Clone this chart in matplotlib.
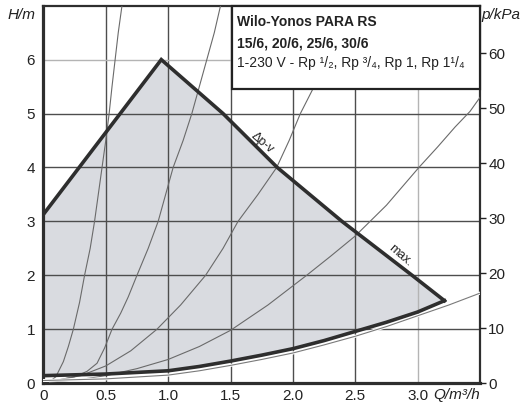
import matplotlib
matplotlib.use('Agg')
import matplotlib.pyplot as plt
from matplotlib.patches import Rectangle

plt.rcParams['font.family'] = ['Liberation Sans', 'DejaVu Sans']

# --- данные ---
q_ticks = [0, 0.5, 1.0, 1.5, 2.0, 2.5, 3.0]
q_labels = ['0', '0.5', '1.0', '1.5', '2.0', '2.5', '3.0']
h_ticks = [0, 1, 2, 3, 4, 5, 6]
p_ticks = [0, 10, 20, 30, 40, 50, 60]

# верхняя граница поля (Δp-v / max.)
top_q = [0.0, 0.945, 1.44, 1.875, 2.394, 2.956, 3.215]
top_h = [3.13, 6.0, 5.0, 4.0, 3.0, 2.0, 1.53]
# нижняя граница поля
bot_q = [0.0, 0.5, 1.0, 1.25, 1.5, 1.75, 2.0, 2.25, 2.5, 2.75, 3.0, 3.215]
bot_h = [0.14, 0.17, 0.23, 0.31, 0.41, 0.52, 0.64, 0.79, 0.96, 1.13, 1.32, 1.53]

# характеристики сети (тонкие кривые)
c1_q = [0.05, 0.1, 0.16, 0.2, 0.24, 0.29, 0.33, 0.375, 0.41, 0.44, 0.47, 0.5,
        0.527, 0.55, 0.575, 0.60, 0.63]
c1_h = [0.03, 0.12, 0.4, 0.68, 1.0, 1.5, 2.0, 2.5, 3.0, 3.5, 4.0, 4.5,
        5.0, 5.5, 6.0, 6.5, 7.0]
c2_q = [0.05, 0.25, 0.35, 0.43, 0.49, 0.55, 0.62, 0.68, 0.75, 0.84, 0.92,
        0.98, 1.04, 1.12, 1.19, 1.25, 1.31, 1.37, 1.42]
c2_h = [0.03, 0.12, 0.22, 0.37, 0.65, 1.0, 1.3, 1.6, 2.0, 2.5, 3.0,
        3.5, 4.0, 4.5, 5.0, 5.5, 6.0, 6.5, 7.0]
c3_q = [0.05, 0.3, 0.5, 0.7, 0.91, 1.1, 1.30, 1.44, 1.56, 1.72, 1.87, 1.97,
        2.06, 2.17, 2.26]
c3_h = [0.03, 0.14, 0.32, 0.6, 1.0, 1.45, 2.0, 2.5, 3.0, 3.5, 4.0, 4.5,
        5.0, 5.5, 6.0]
c4_q = [0.05, 0.3, 0.5, 0.75, 1.0, 1.25, 1.5, 1.8, 2.11, 2.3, 2.5, 2.75,
        3.01, 3.16, 3.3, 3.42, 3.5]
c4_h = [0.02, 0.07, 0.14, 0.27, 0.44, 0.68, 0.98, 1.45, 2.0, 2.35, 2.73, 3.3,
        4.0, 4.38, 4.75, 5.04, 5.3]
c5_q = [0.0, 0.5, 1.0, 1.25, 1.5, 1.75, 2.0, 2.25, 2.5, 2.75, 3.0, 3.25, 3.5]
c5_h = [0.05, 0.08, 0.15, 0.23, 0.33, 0.44, 0.56, 0.71, 0.87, 1.05, 1.25, 1.45, 1.67]

### Область отрисовки
W, H = 525, 403
fig = plt.figure(figsize=(W / 100, H / 100), dpi=100)
x0, x1, y0, y1 = 43.4, 480, 383.2, 5.7
ax = fig.add_axes([x0 / W, 1 - y0 / H, (x1 - x0) / W, (y0 - y1) / H])
ax.set_xlim(0, 3.5)
ax.set_ylim(0, 7)

fill_col = '#d9dbe0'
dark = '#2e2e2e'
grid_dark = '#4d4d4d'
grid_light = '#b4b4b4'

# поле характеристик
ax.fill(top_q + bot_q[::-1], top_h + bot_h[::-1], color=fill_col, lw=0, zorder=1)

# сетка
for v in q_ticks[1:]:
    ax.axvline(v, color=grid_light if v == 3.0 else grid_dark, lw=1.0, zorder=2)
for v in h_ticks[1:]:
    ax.axhline(v, color=grid_light if v == 6 else grid_dark, lw=1.0, zorder=2)

# тонкие кривые
for cq, ch in [(c1_q, c1_h), (c2_q, c2_h), (c3_q, c3_h), (c4_q, c4_h)]:
    ax.plot(cq, ch, color='#6a6a6a', lw=0.8, zorder=3, solid_joinstyle='round')
ax.plot(c5_q, c5_h, color='white', lw=2.2, zorder=3)
ax.plot(c5_q, c5_h, color='#7a7a7a', lw=0.8, zorder=3)

# толстые границы
ax.plot(top_q, top_h, color=dark, lw=2.6, zorder=4, solid_joinstyle='miter')
ax.plot(bot_q, bot_h, color=dark, lw=2.6, zorder=4, solid_joinstyle='round')

# подписи на линиях
ax.text(1.752, 4.46, 'Δp-v', rotation=-41, ha='center', va='center',
        fontsize=9, color='#222', zorder=6)
ax.text(2.86, 2.37, 'max.', rotation=-41, ha='center', va='center',
        fontsize=9, color='#222', zorder=6)

# рамка с названием
ax.add_patch(Rectangle((1.514, 5.46), 3.5 - 1.514, 7 - 5.46, facecolor='white',
                       edgecolor='#222', lw=1.6, zorder=5, clip_on=False))
fig.text(237 / W, 1 - 22 / H, 'Wilo-Yonos PARA RS', fontsize=10,
         fontweight='bold', va='center', color='#222', zorder=6)
fig.text(237 / W, 1 - 43 / H, '15/6, 20/6, 25/6, 30/6', fontsize=10,
         fontweight='bold', va='center', color='#222', zorder=6)
fig.text(237 / W, 1 - 63 / H, '1-230 V - Rp ¹/₂, Rp ³/₄, Rp 1, Rp 1¹/₄',
         fontsize=10, va='center', color='#222', zorder=6)

# оси
for s in ['left', 'bottom']:
    ax.spines[s].set_linewidth(2.3)
    ax.spines[s].set_color(dark)
for s in ['top', 'right']:
    ax.spines[s].set_linewidth(1.6)
    ax.spines[s].set_color(dark)

ax.set_xticks(q_ticks)
ax.set_xticklabels(q_labels)
ax.set_yticks(h_ticks)
ax.tick_params(axis='both', length=0, labelsize=11, colors='#222')
ax.tick_params(axis='y', pad=6)
ax.tick_params(axis='x', pad=4)

ax2 = ax.twinx()
ax2.set_ylim(0, 7 * 9.81)
ax2.set_yticks(p_ticks)
ax2.tick_params(axis='y', direction='out', length=4, width=1.0, pad=2,
                labelsize=11, colors='#222')
for s in ax2.spines.values():
    s.set_visible(False)

# подписи осей
fig.text(8 / W, 1 - 15 / H, 'H/m', fontsize=11, style='italic', va='center', color='#222')
fig.text(481 / W, 1 - 15 / H, 'p/kPa', fontsize=11, style='italic', va='center', color='#222')
fig.text(433 / W, 1 - 395 / H, 'Q/m³/h', fontsize=11, style='italic', va='center', color='#222')

fig.savefig('out.png', dpi=100)
